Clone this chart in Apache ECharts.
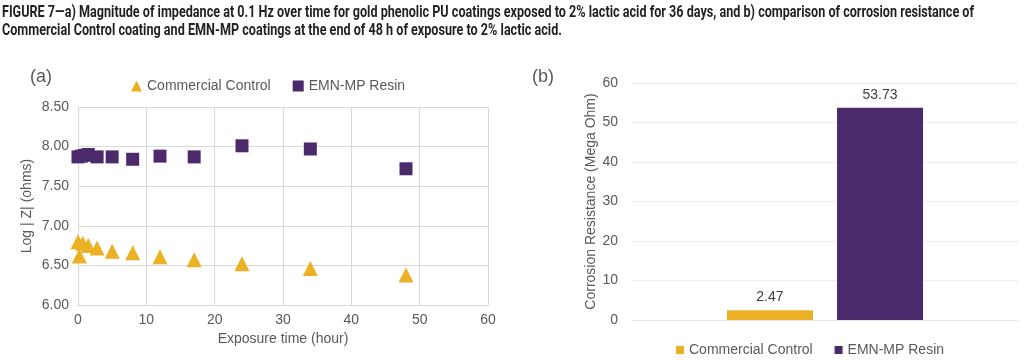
<!DOCTYPE html>
<html><head><meta charset="utf-8">
<script src="https://cdn.jsdelivr.net/npm/echarts@6/dist/echarts.min.js"></script>
<style>html,body{margin:0;padding:0;background:#fff}#c{width:1024px;height:361px}</style>
</head><body><div id="c"></div>
<script>
var titleLines = [
  "FIGURE 7\u2014a) Magnitude of impedance at 0.1 Hz over time for gold phenolic PU coatings exposed to 2% lactic acid for 36 days, and b) comparison of corrosion resistance of",
  "Commercial Control coating and EMN-MP coatings at the end of 48 h of exposure to 2% lactic acid."
];
var seriesNames = ["Commercial Control", "EMN-MP Resin"];
var controlTimes = [0, 0.2, 0.7, 1.5, 2.8, 5, 8, 12, 17, 24, 34, 48];
var controlLogZ = [6.80, 6.62, 6.78, 6.75, 6.72, 6.68, 6.66, 6.61, 6.57, 6.52, 6.46, 6.38];
var resinTimes = [0, 0.5, 1, 1.5, 2.8, 5, 8, 12, 17, 24, 34, 48];
var resinLogZ = [7.87, 7.88, 7.89, 7.90, 7.87, 7.87, 7.84, 7.88, 7.87, 8.01, 7.97, 7.72];
var barCategory = ["48 h"];
var corrosionResistance = [2.47, 53.73];

var colors = ["#EBB024", "#4B2A6C"];
function pairs(xs, ys){ return xs.map(function(x,i){return [x, ys[i]];}); }

var titleFont = 'bold 16px Roboto, sans-serif';
var mctx = document.createElement('canvas').getContext('2d');
mctx.font = titleFont;
var titleScale = 972 / mctx.measureText(titleLines[0]).width;

var chart = echarts.init(document.getElementById('c'), null, {renderer:'canvas'});
var txt = '#595959';
var fs = 14;
var ff = '"Liberation Sans", Arial, sans-serif';
function ts(o){ o.fontFamily = ff; return o; }
chart.setOption({
  animation:false,
  textStyle:{fontFamily:ff},
  graphic:[
    {type:'text', x:2, y:13, scaleX:titleScale, originX:0,
     style:{text:titleLines[0], font:titleFont, fill:'#231f20', verticalAlign:'middle'}},
    {type:'text', x:2, y:31, scaleX:titleScale, originX:0,
     style:{text:titleLines[1], font:titleFont, fill:'#231f20', verticalAlign:'middle'}}
  ],
  title:[
    {text:'(a)', left:25, top:63, textStyle:ts({fontSize:18, fontWeight:'normal', color:txt})},
    {text:'(b)', left:527, top:63, textStyle:ts({fontSize:18, fontWeight:'normal', color:txt})}
  ],
  legend:[
    {left:126, top:74, itemWidth:11, itemHeight:11, itemGap:22, textStyle:ts({fontSize:fs, color:txt}),
     data:[{name:seriesNames[0], icon:'triangle'}, {name:seriesNames[1], icon:'rect'}]},
    {left:671, top:338, itemWidth:8, itemHeight:8, itemGap:18, textStyle:ts({fontSize:fs, color:txt}),
     data:[{name:seriesNames[0]+' ', icon:'rect'}, {name:seriesNames[1]+' ', icon:'rect'}]}
  ],
  grid:[
    {left:78, right:536, top:107, bottom:56},
    {left:632, right:6, top:83, bottom:41}
  ],
  xAxis:[
    {gridIndex:0, type:'value', min:0, max:60, interval:10,
     name:'Exposure time (hour)', nameLocation:'middle', nameGap:24, nameTextStyle:ts({fontSize:fs, color:txt}),
     axisLine:{show:true, lineStyle:{color:'#d9d9d9'}}, axisTick:{show:false},
     axisLabel:ts({fontSize:fs, color:txt, margin:8}),
     splitLine:{show:true, lineStyle:{color:'#d9d9d9'}}},
    {gridIndex:1, type:'category', data:barCategory,
     axisLine:{show:true, lineStyle:{color:'#e6e6e6'}}, axisTick:{show:false}, axisLabel:{show:false}}
  ],
  yAxis:[
    {gridIndex:0, type:'value', min:6, max:8.5, interval:0.5,
     name:'Log | Z| (ohms)', nameLocation:'middle', nameGap:44, nameTextStyle:ts({fontSize:fs, color:txt}),
     axisLine:{show:true, lineStyle:{color:'#d9d9d9'}}, axisTick:{show:false},
     axisLabel:ts({fontSize:fs, color:txt, margin:9, formatter:function(v){return v.toFixed(2);}}),
     splitLine:{show:true, lineStyle:{color:'#d9d9d9'}}},
    {gridIndex:1, type:'value', min:0, max:60, interval:10,
     name:'Corrosion Resistance (Mega Ohm)', nameLocation:'middle', nameGap:33, nameTextStyle:ts({fontSize:fs, color:txt}),
     axisLine:{show:false}, axisTick:{show:false},
     axisLabel:ts({fontSize:fs, color:txt, margin:14}),
     splitLine:{show:true, lineStyle:{color:'#ececec'}}}
  ],
  series:[
    {name:seriesNames[0], type:'scatter', xAxisIndex:0, yAxisIndex:0, symbol:'triangle', symbolSize:15,
     itemStyle:{color:colors[0], opacity:1}, data:pairs(controlTimes, controlLogZ)},
    {name:seriesNames[1], type:'scatter', xAxisIndex:0, yAxisIndex:0, symbol:'rect', symbolSize:13,
     itemStyle:{color:colors[1], opacity:1}, data:pairs(resinTimes, resinLogZ)},
    {name:seriesNames[0]+' ', type:'bar', xAxisIndex:1, yAxisIndex:1, barWidth:86, barGap:'28%',
     itemStyle:{color:colors[0]}, label:ts({show:true, position:'top', fontSize:fs, color:'#404040', distance:6}),
     data:[corrosionResistance[0]]},
    {name:seriesNames[1]+' ', type:'bar', xAxisIndex:1, yAxisIndex:1, barWidth:86, barGap:'28%',
     itemStyle:{color:colors[1]}, label:ts({show:true, position:'top', fontSize:fs, color:'#404040', distance:6}),
     data:[corrosionResistance[1]]}
  ]
});
</script></body></html>
